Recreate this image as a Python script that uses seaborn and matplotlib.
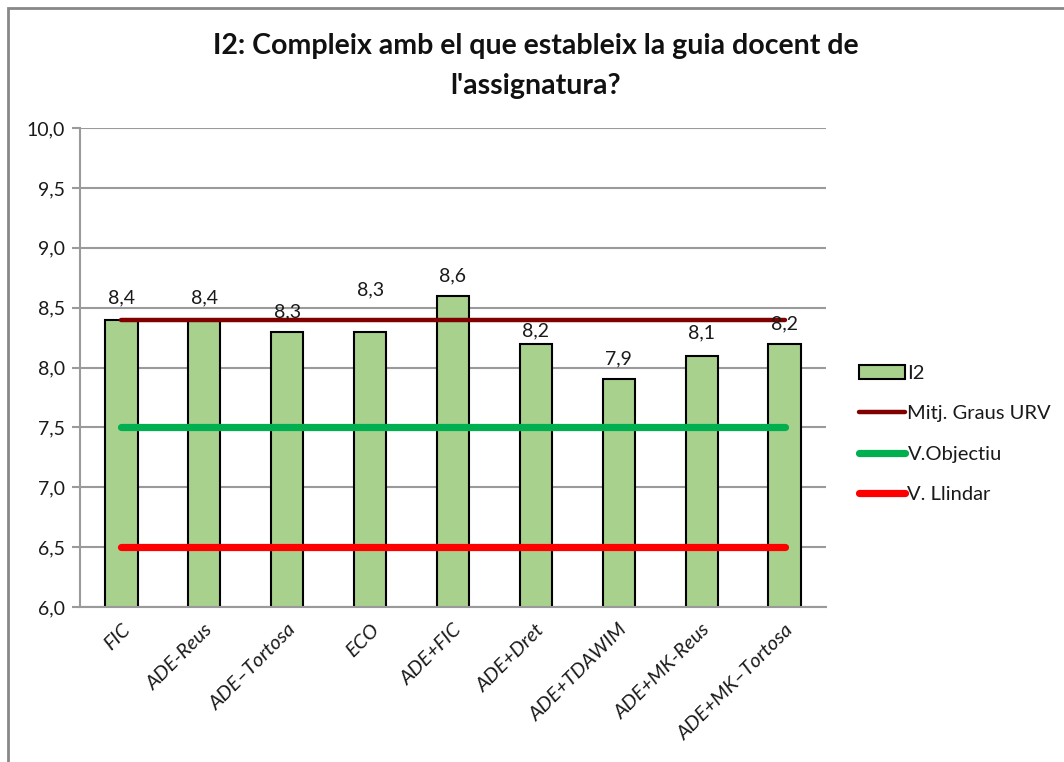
import matplotlib
matplotlib.use("Agg")
import matplotlib.pyplot as plt
import seaborn as sns
import numpy as np
from matplotlib.patches import Patch, Rectangle
from matplotlib.lines import Line2D
from matplotlib.ticker import FuncFormatter, FixedLocator

# data
categories = ['FIC', 'ADE-Reus', 'ADE–Tortosa', 'ECO', 'ADE+FIC', 'ADE+Dret',
              'ADE+TDAWIM', 'ADE+MK-Reus', 'ADE+MK–Tortosa']
i2_values = [8.4, 8.4, 8.3, 8.3, 8.6, 8.2, 7.9, 8.1, 8.2]
mitj_urv = [8.4, 8.4, 8.4, 8.4, 8.4, 8.4, 8.4, 8.4, 8.4]
v_objectiu = [7.5, 7.5, 7.5, 7.5, 7.5, 7.5, 7.5, 7.5, 7.5]
v_llindar = [6.5, 6.5, 6.5, 6.5, 6.5, 6.5, 6.5, 6.5, 6.5]

# label offsets above bar tops (pixels), Excel placed them a bit unevenly
label_offsets = [22, 22, 20, 42, 20, 13, 21, 23, 20]

sns.set_style("white")
plt.rcParams['font.family'] = ['Lato', 'DejaVu Sans']

fig = plt.figure(figsize=(10.64, 7.62), dpi=100)
ax = fig.add_axes([80 / 1064, 155 / 762, 746 / 1064, 479 / 762])

grid_col = '#9a9a9a'
txt_col = '#1a1a1a'
ax.set_ylim(6.0, 10.0)
ax.set_yticks(np.arange(6.0, 10.01, 0.5))
ax.yaxis.grid(True, color=grid_col, linewidth=1.5)
ax.set_axisbelow(True)

sns.barplot(x=categories, y=i2_values, color='#A9D18E', edgecolor='black',
            linewidth=1.5, width=0.39, saturation=1, ax=ax, zorder=2)

pos = np.arange(len(categories))
ax.plot(pos, mitj_urv, color='#800000', linewidth=3.2, solid_capstyle='round', zorder=3)
ax.plot(pos, v_objectiu, color='#00B050', linewidth=5.2, solid_capstyle='round', zorder=3)
ax.plot(pos, v_llindar, color='#FF0000', linewidth=5.2, solid_capstyle='round', zorder=3)

for i, v in enumerate(i2_values):
    ax.annotate(f'{v:.1f}'.replace('.', ','), (i, v), xytext=(0, label_offsets[i]),
                textcoords='offset pixels', ha='center', va='center', fontsize=14,
                color=txt_col, zorder=4)

ax.set_xlim(-0.5, len(categories) - 0.5)
ax.set_xticks(pos)
ax.set_xticklabels(categories, rotation=45, ha='right', rotation_mode='anchor',
                   fontsize=14.5, style='italic', color=txt_col)
ax.xaxis.set_minor_locator(FixedLocator(np.arange(-0.5, len(categories), 1.0)))
ax.tick_params(axis='x', which='major', length=0, pad=10)
ax.tick_params(axis='x', which='minor', length=6, width=1.5, color=grid_col, direction='out')
ax.tick_params(axis='y', length=6, width=1.5, color=grid_col, direction='out',
               labelsize=14, labelcolor=txt_col, left=True, pad=5)
ax.yaxis.set_major_formatter(FuncFormatter(lambda v, p: f'{v:.1f}'.replace('.', ',')))

for s in ['top', 'right']:
    ax.spines[s].set_visible(False)
for s in ['left', 'bottom']:
    ax.spines[s].set_color(grid_col)
    ax.spines[s].set_linewidth(1.5)
ax.set_xlabel('')
ax.set_ylabel('')

fig.text(536 / 1064, 1 - 66 / 762,
         "I2: Compleix amb el que estableix la guia docent de\nl'assignatura?",
         ha='center', va='center', fontsize=20.5, fontweight='bold',
         linespacing=1.7, color='#111111')

handles = [
    Patch(facecolor='#A9D18E', edgecolor='black', linewidth=1.5, label='I2'),
    Line2D([], [], color='#800000', linewidth=3.2, solid_capstyle='round', label='Mitj. Graus URV'),
    Line2D([], [], color='#00B050', linewidth=5.2, solid_capstyle='round', label='V.Objectiu'),
    Line2D([], [], color='#FF0000', linewidth=5.2, solid_capstyle='round', label='V. Llindar'),
]
fig.legend(handles=handles, loc='center left', bbox_to_anchor=(841 / 1064, 1 - 434 / 762),
           frameon=False, fontsize=14.5, handlelength=2.3, handleheight=0.7,
           handletextpad=0.1, labelspacing=1.15, labelcolor=txt_col)

# outer chart border
fig.patches.append(Rectangle((8 / 1064, -0.01), 1.1, 1 - 8 / 762 + 0.01,
                             transform=fig.transFigure, fill=False,
                             edgecolor='#888888', linewidth=2))

fig.savefig('out.png', dpi=100)
